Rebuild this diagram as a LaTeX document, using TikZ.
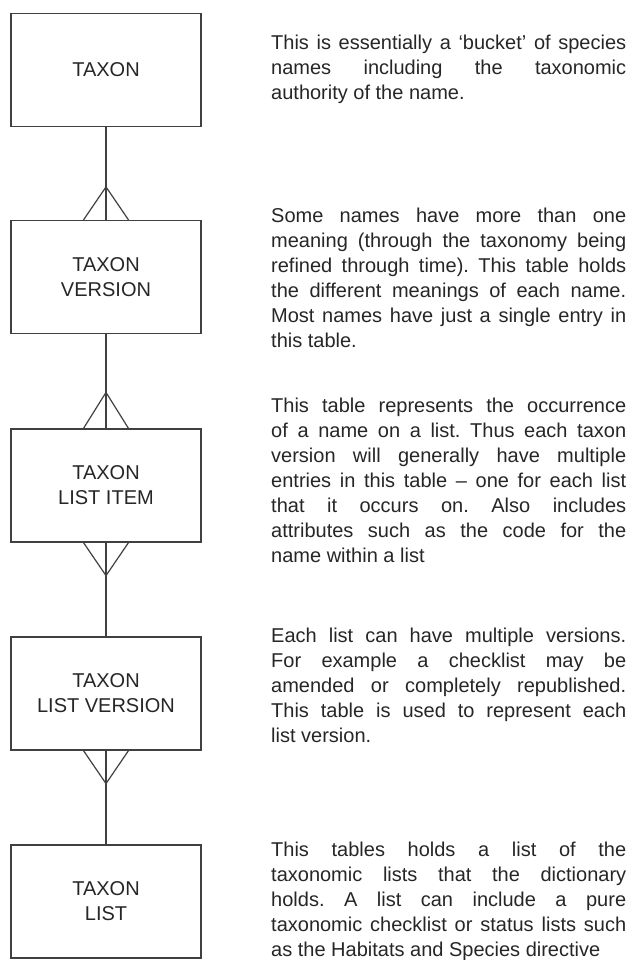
\documentclass[tikz,border=0pt]{standalone}
\usepackage{fontspec}
\setmainfont{Liberation Sans}
\usetikzlibrary{calc}

\newcommand{\jline}[1]{\makebox[355pt][s]{#1}}

\begin{document}
\frenchspacing
\begin{tikzpicture}[x=1pt, y=-1pt,
		entitybox/.style={draw=black!75, line width=1.2pt, minimum width=190pt, minimum height=113pt,
			align=center, font=\fontsize{20}{25}\selectfont, text=black!85},
		note/.style={anchor=north west, inner sep=0pt, align=left,
			font=\fontsize{20}{25}\selectfont, text=black!85},
		link/.style={draw=black!75, line width=1.2pt}]
	\useasboundingbox (0,0) rectangle (632,960);

	% tables
	\node[entitybox] (taxon) at (106,70) {TAXON};
	\node[entitybox] (tver) at (106,277) {TAXON\\VERSION};
	\node[entitybox] (titem) at (106,485.5) {TAXON\\LIST ITEM};
	\node[entitybox] (tlver) at (106,693.5) {TAXON\\LIST VERSION};
	\node[entitybox] (tlist) at (106,901.5) {TAXON\\LIST};

	% relationships
	\draw[link] (taxon) -- (tver);
	\draw[link] (tver) -- (titem);
	\draw[link] (titem) -- (tlver);
	\draw[link] (tlver) -- (tlist);

	% crow's feet
	\coordinate (cf1) at ($(tver.north)+(0,-33)$);
		\draw[link] ($(tver.north)+(-22.5,0)$) -- (cf1) -- ($(tver.north)+(22.5,0)$);
	\coordinate (cf2) at ($(titem.north)+(0,-36)$);
		\draw[link] ($(titem.north)+(-22.5,0)$) -- (cf2) -- ($(titem.north)+(22.5,0)$);
	\coordinate (cf3) at ($(titem.south)+(0,33)$);
		\draw[link] ($(titem.south)+(-22.5,0)$) -- (cf3) -- ($(titem.south)+(22.5,0)$);
	\coordinate (cf4) at ($(tlver.south)+(0,33)$);
		\draw[link] ($(tlver.south)+(-22.5,0)$) -- (cf4) -- ($(tlver.south)+(22.5,0)$);

	% descriptions
	\node[note] (taxon-note) at (271,34.4) {%
		\jline{This is essentially a `bucket' of species}\\
		\jline{names including the taxonomic}\\
		authority of the name.};
	\node[note] (tver-note) at (271,207.4) {%
		\jline{Some names have more than one}\\
		\jline{meaning (through the taxonomy being}\\
		\jline{refined through time). This table holds}\\
		\jline{the different meanings of each name.}\\
		\jline{Most names have just a single entry in}\\
		this table.};
	\node[note] (titem-note) at (271,397.4) {%
		\jline{This table represents the occurrence}\\
		\jline{of a name on a list. Thus each taxon}\\
		\jline{version will generally have multiple}\\
		\jline{entries in this table -- one for each list}\\
		\jline{that it occurs on. Also includes}\\
		\jline{attributes such as the code for the}\\
		name within a list};
	\node[note] (tlver-note) at (271,627.4) {%
		\jline{Each list can have multiple versions.}\\
		\jline{For example a checklist may be}\\
		\jline{amended or completely republished.}\\
		\jline{This table is used to represent each}\\
		list version.};
	\node[note] (tlist-note) at (271,841.4) {%
		\jline{This tables holds a list of the}\\
		\jline{taxonomic lists that the dictionary}\\
		\jline{holds. A list can include a pure}\\
		\jline{taxonomic checklist or status lists such}\\
		as the Habitats and Species directive};
\end{tikzpicture}
\end{document}
